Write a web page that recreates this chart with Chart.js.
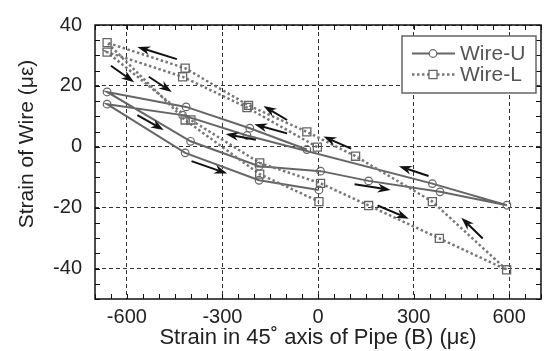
<!DOCTYPE html>
<html>
<head>
<meta charset="utf-8">
<script src="https://cdn.jsdelivr.net/npm/chart.js@4.4.0/dist/chart.umd.min.js"></script>
<style>
html, body { margin: 0; padding: 0; background: #fff; overflow: hidden; }
#wrap { width: 545px; height: 351px; overflow: hidden; }
</style>
</head>
<body>
<div id="wrap"><canvas id="strainChart" width="548" height="351"></canvas></div>
<script>
// pipe strain (x) and wire strain (y), in loading order
const wireUX = [-35, -214, -414, -662, -400, -185, 8, 159, 383, 593, 359, -223, -425, -662, -417, -185, 3];
const wireUY = [-0.9, 6.1, 13.1, 18, 1.8, -6.4, -8, -11.2, -14.8, -19.2, -12.1, 3.7, 10.4, 14, -2, -11, -14.2];
const wireLX = [-2, -223, -425, -662, -399, -183, 8, 159, 381, 592, 359, 118, -35, -218, -417, -662, -417, -183, 3];
const wireLY = [-0.1, 12.9, 23.0, 31.1, 8.8, -5.3, -12, -19.3, -30.1, -40.4, -18, -3.1, 4.9, 13.6, 25.8, 34.2, 8.8, -9.0, -18];

// loading direction arrows, tail -> head
const arrowTail = [[-443, 28.8], [-650, 26.6], [-531, 23.0], [-567, 10.4], [-397, -4.7], [-97, 8.8], [-97, 4.4], [-195, 2.3], [104, -0.6], [347, -9.6], [115, -12.3], [187, -19.3], [517, -30.1]];
const arrowHead = [[-567, 32.8], [-577, 21.2], [-459, 18.0], [-484, 5.5], [-285, -8.8], [-171, 13.4], [-200, 7.4], [-290, 4.2], [17, 3.4], [254, -6.4], [228, -14.2], [285, -23.6], [450, -23.3]];

const xTicks = { min: -700, max: 700, step: 300, minor: 50 };
const yTicks = { min: -50, max: 40, step: 20, minor: 5 };

const FONT = "'Liberation Sans', Arial, sans-serif";

function toPoints(xs, ys) {
    return xs.map((x, i) => ({ x: x, y: ys[i] }));
}

// frame with inward ticks on all four sides
const frameTicks = {
    id: 'frameTicks',
    afterDatasetsDraw(chart) {
        const ctx = chart.ctx;
        const a = chart.chartArea;
        const sx = chart.scales.x, sy = chart.scales.y;
        ctx.save();
        ctx.strokeStyle = '#111';
        ctx.lineWidth = 1.5;
        ctx.strokeRect(a.left, a.top, a.right - a.left, a.bottom - a.top);
        ctx.lineWidth = 1;
        ctx.beginPath();
        for (let v = xTicks.min; v <= xTicks.max; v += xTicks.minor) {
            let px = Math.round(sx.getPixelForValue(v)) + 0.5;
            ctx.moveTo(px, a.bottom); ctx.lineTo(px, a.bottom - 5);
            ctx.moveTo(px, a.top); ctx.lineTo(px, a.top + 5);
        }
        for (let v = yTicks.min; v <= yTicks.max; v += yTicks.minor) {
            let py = Math.round(sy.getPixelForValue(v)) + 0.5;
            ctx.moveTo(a.left, py); ctx.lineTo(a.left + 5, py);
            ctx.moveTo(a.right, py); ctx.lineTo(a.right - 5, py);
        }
        ctx.stroke();
        ctx.restore();
    }
};

const arrows = {
    id: 'arrows',
    afterDatasetsDraw(chart) {
        const ctx = chart.ctx;
        const sx = chart.scales.x, sy = chart.scales.y;
        ctx.save();
        ctx.strokeStyle = '#111';
        ctx.fillStyle = '#111';
        ctx.lineWidth = 2;
        for (let i = 0; i < arrowTail.length; i++) {
            let x1 = sx.getPixelForValue(arrowTail[i][0]), y1 = sy.getPixelForValue(arrowTail[i][1]);
            let x2 = sx.getPixelForValue(arrowHead[i][0]), y2 = sy.getPixelForValue(arrowHead[i][1]);
            let ang = Math.atan2(y2 - y1, x2 - x1);
            let cos = Math.cos(ang), sin = Math.sin(ang);
            let len = 13, half = 4.5;
            let bx = x2 - len * cos, by = y2 - len * sin;
            ctx.beginPath();
            ctx.moveTo(x1, y1);
            ctx.lineTo(bx + 4 * cos, by + 4 * sin);
            ctx.stroke();
            ctx.beginPath();
            ctx.moveTo(x2, y2);
            ctx.lineTo(bx - half * sin, by + half * cos);
            ctx.lineTo(bx + 4 * cos, by + 4 * sin);
            ctx.lineTo(bx + half * sin, by - half * cos);
            ctx.closePath();
            ctx.fill();
        }
        ctx.restore();
    }
};

// boxed legend, line + marker sample per dataset
const boxLegend = {
    id: 'boxLegend',
    afterDraw(chart) {
        const ctx = chart.ctx;
        ctx.save();
        ctx.fillStyle = '#fff';
        ctx.fillRect(402, 36, 134, 57);
        ctx.strokeStyle = '#666';
        ctx.lineWidth = 1.5;
        ctx.strokeRect(402, 36, 134, 57);
        const rows = [53.5, 74.5];
        chart.data.datasets.forEach((ds, i) => {
            let y = rows[i];
            ctx.strokeStyle = ds.borderColor;
            ctx.lineWidth = ds.borderWidth;
            ctx.setLineDash(ds.borderDash || []);
            ctx.beginPath();
            ctx.moveTo(412, y); ctx.lineTo(455, y);
            ctx.stroke();
            ctx.setLineDash([]);
            ctx.strokeStyle = ds.pointBorderColor;
            ctx.fillStyle = '#fff';
            ctx.lineWidth = ds.pointBorderWidth;
            Chart.helpers.drawPoint(ctx, { pointStyle: ds.pointStyle, radius: ds.pointRadius, borderWidth: ds.pointBorderWidth }, 433, y);
            ctx.fillStyle = '#555';
            ctx.font = '21px ' + FONT;
            ctx.textBaseline = 'middle';
            ctx.textAlign = 'left';
            ctx.fillText(ds.label, 460, y + 1);
        });
        ctx.restore();
    }
};

const yTitle = {
    id: 'yTitle',
    afterDraw(chart) {
        const ctx = chart.ctx;
        ctx.save();
        ctx.translate(27, 144);
        ctx.rotate(-Math.PI / 2);
        ctx.fillStyle = '#222';
        ctx.font = '21px ' + FONT;
        ctx.textAlign = 'center';
        ctx.textBaseline = 'middle';
        ctx.fillText('Strain of Wire (με)', 0, 0);
        ctx.restore();
    }
};

const ctx = document.getElementById('strainChart').getContext('2d');
const strainChart = new Chart(ctx, {
    type: 'scatter',
    data: {
        datasets: [{
                label: 'Wire-U',
                data: toPoints(wireUX, wireUY),
                showLine: true,
                borderColor: '#666',
                borderWidth: 2,
                pointStyle: 'circle',
                pointRadius: 3.8,
                pointBorderWidth: 1.2,
                pointBorderColor: '#666',
                pointBackgroundColor: 'rgba(0,0,0,0)',
                order: 2
            },
            {
                label: 'Wire-L',
                data: toPoints(wireLX, wireLY),
                showLine: true,
                borderColor: '#777',
                borderWidth: 2.5,
                borderDash: [2.5, 2.5],
                pointStyle: 'rect',
                pointRadius: 5.7,
                pointBorderWidth: 1.3,
                pointBorderColor: '#666',
                pointBackgroundColor: 'rgba(0,0,0,0)',
                order: 1
            }
        ]
    },
    options: {
        responsive: false,
        animation: false,
        layout: { padding: { top: 22, right: 1, left: 0, bottom: 0 } },
        plugins: { legend: { display: false }, tooltip: { enabled: false } },
        scales: {
            x: {
                type: 'linear',
                min: xTicks.min,
                max: xTicks.max,
                ticks: { stepSize: xTicks.step, includeBounds: false, padding: 6, maxRotation: 0, color: '#222', font: { family: FONT, size: 20 } },
                grid: { color: '#333', lineWidth: 1, drawTicks: false },
                border: { display: false, dash: [4, 3] },
                title: { display: true, text: 'Strain in 45˚ axis of Pipe (B) (με)', color: '#222', font: { family: FONT, size: 22 }, padding: { top: 0, bottom: 0 } },
                afterFit: s => { s.height = 52 }
            },
            y: {
                type: 'linear',
                min: yTicks.min,
                max: yTicks.max,
                ticks: { stepSize: yTicks.step, includeBounds: false, padding: 13, color: '#222', font: { family: FONT, size: 20 } },
                grid: { color: '#333', lineWidth: 1, drawTicks: false },
                border: { display: false, dash: [4, 3] },
                afterFit: s => { s.width = 95 }
            }
        }
    },
    plugins: [frameTicks, arrows, boxLegend, yTitle]
});
</script>
</body>
</html>
